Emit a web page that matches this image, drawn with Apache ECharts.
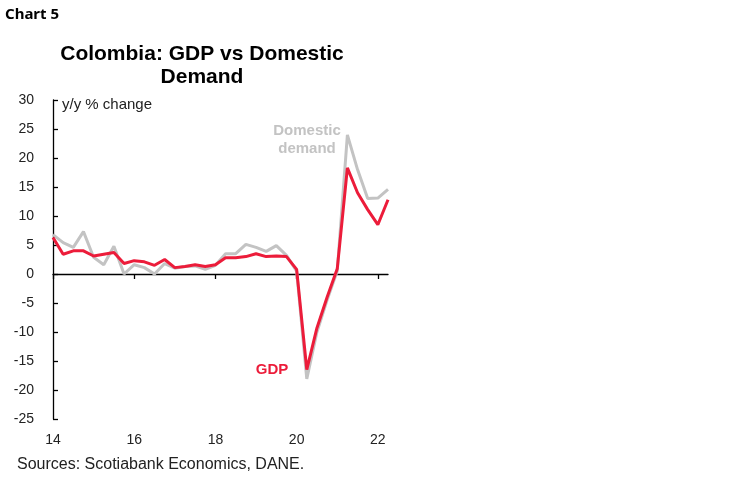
<!DOCTYPE html>
<html>
<head>
<meta charset="utf-8">
<script src="https://cdn.jsdelivr.net/npm/echarts@6/dist/echarts.min.js"></script>
<style>
html, body {margin: 0; padding: 0; background: #fff;}
#chart_1 {width: 750px; height: 487px;}
</style>
</head>
<body>
<div id="chart_1"></div>
<script>
// quarterly, 2014Q1 - 2022Q2
var quarters = [
    '2014Q1', '2014Q2', '2014Q3', '2014Q4', '2015Q1', '2015Q2', '2015Q3', '2015Q4',
    '2016Q1', '2016Q2', '2016Q3', '2016Q4', '2017Q1', '2017Q2', '2017Q3', '2017Q4',
    '2018Q1', '2018Q2', '2018Q3', '2018Q4', '2019Q1', '2019Q2', '2019Q3', '2019Q4',
    '2020Q1', '2020Q2', '2020Q3', '2020Q4', '2021Q1', '2021Q2', '2021Q3', '2021Q4',
    '2022Q1', '2022Q2'
];
// y/y % change
var gdp = [6.3, 3.4, 4.0, 4.0, 3.1, 3.4, 3.7, 1.8, 2.3, 2.1, 1.5, 2.5, 1.1, 1.3, 1.6, 1.3,
    1.6, 2.8, 2.8, 3.0, 3.5, 3.0, 3.1, 3.0, 0.8, -16.5, -9.3, -4.0, 0.9, 18.3, 14.0, 11.1,
    8.5, 12.8];
var domesticDemand = [6.8, 5.4, 4.6, 7.3, 2.9, 1.6, 4.8, 0.0, 1.6, 1.1, 0.0, 1.8, 1.0, 1.3, 1.4, 0.8,
    1.5, 3.5, 3.5, 5.1, 4.6, 3.9, 4.9, 3.2, 0.5, -18.1, -10.0, -4.5, 0.5, 24.0, 18.0, 13.0,
    13.1, 14.6];
var yMin = -25, yMax = 30, yStep = 5;

var RED = '#ec1c3a', GREY = '#c3c3c3';
var FONT = '"Liberation Sans", Arial, sans-serif';

var chart1 = echarts.init(document.getElementById('chart_1'));
var option = {
    animation: false,
    backgroundColor: '#fff',
    grid: {left: 53, right: 362, top: 100, bottom: 68},
    graphic: [
        {type: 'text', left: 5, top: 7,
            style: {text: 'Chart 5', font: 'bold 15px "Noto Sans", sans-serif', fill: '#000'}},
        {type: 'text', x: 202, y: 43,
            style: {text: 'Colombia: GDP vs Domestic\nDemand', font: 'bold 21px ' + FONT, fill: '#000',
                textAlign: 'center', lineHeight: 23}},
        {type: 'text', x: 62, y: 97,
            style: {text: 'y/y % change', font: '15px ' + FONT, fill: '#222'}},
        {type: 'text', x: 307, y: 122,
            style: {text: 'Domestic\ndemand', font: 'bold 15px ' + FONT, fill: GREY,
                textAlign: 'center', lineHeight: 18}},
        {type: 'text', x: 272, y: 362,
            style: {text: 'GDP', font: 'bold 15px ' + FONT, fill: RED, textAlign: 'center'}},
        {type: 'text', x: 17, y: 457,
            style: {text: 'Sources: Scotiabank Economics, DANE.', font: '16px ' + FONT, fill: '#222'}}
    ],
    xAxis: [
        {
            type: 'category', data: quarters, boundaryGap: false, position: 'bottom',
            axisLine: {show: false, onZero: false},
            axisTick: {show: false},
            axisLabel: {
                interval: 7, margin: 14, color: '#222', fontSize: 14, fontFamily: FONT,
                formatter: function (v) { return v.slice(2, 4); }
            },
            splitLine: {show: false}
        },
        {
            type: 'category', data: quarters, boundaryGap: false, position: 'bottom',
            axisLine: {show: true, onZero: true, lineStyle: {color: '#000', width: 1.3}},
            axisTick: {show: true, interval: 7, length: 5, lineStyle: {color: '#000', width: 1.3}},
            axisLabel: {show: false},
            splitLine: {show: false}
        }
    ],
    yAxis: {
        type: 'value', min: yMin, max: yMax, interval: yStep,
        axisLine: {show: true, lineStyle: {color: '#000', width: 1.3}},
        axisTick: {show: true, inside: true, length: 5, lineStyle: {color: '#000', width: 1.3}},
        axisLabel: {color: '#222', fontSize: 14, fontFamily: FONT, margin: 19},
        splitLine: {show: false}
    },
    series: [
        {name: 'Domestic demand', type: 'line', data: domesticDemand, showSymbol: false,
            lineStyle: {color: GREY, width: 3}, z: 2},
        {name: 'GDP', type: 'line', data: gdp, showSymbol: false,
            lineStyle: {color: RED, width: 3}, z: 3}
    ]
};
chart1.setOption(option);
</script>
</body>
</html>
